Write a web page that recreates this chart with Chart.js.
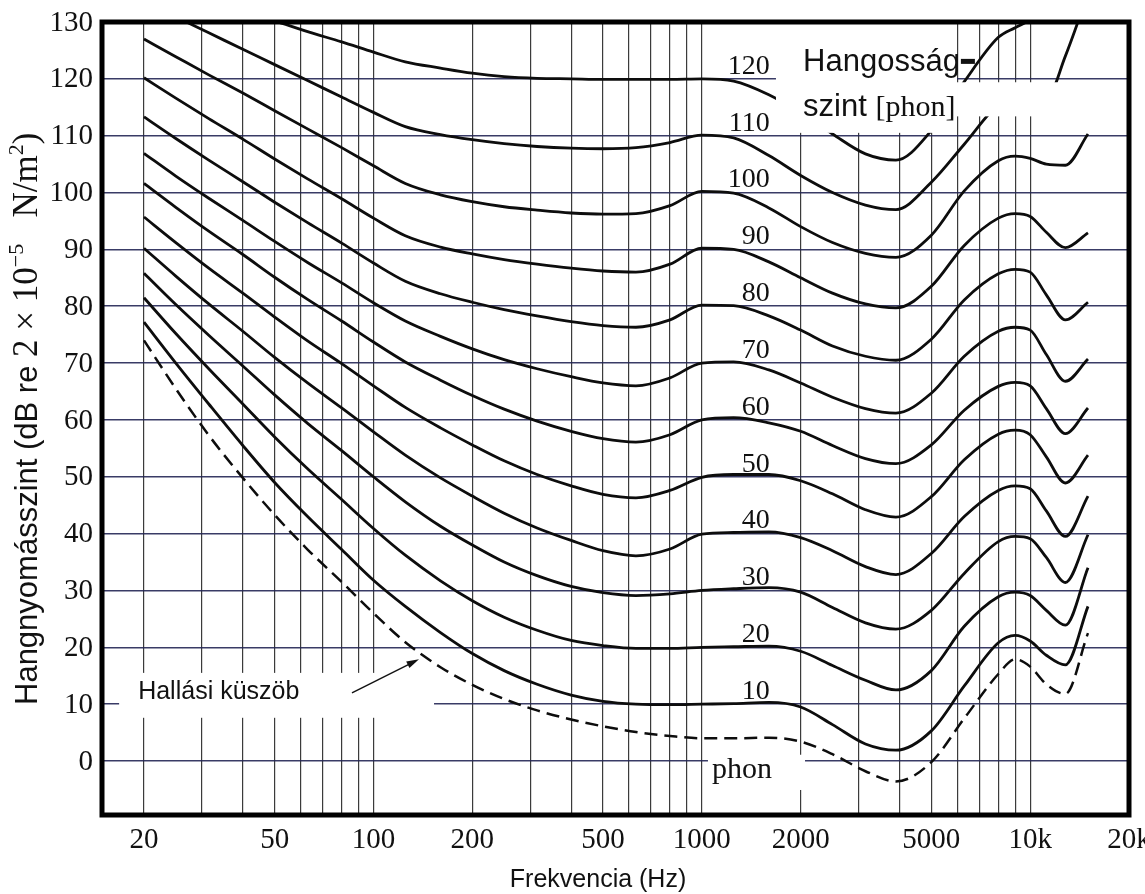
<!DOCTYPE html>
<html>
<head>
<meta charset="utf-8">
<title>Hangossági görbék</title>
<script src="https://cdn.jsdelivr.net/npm/chart.js@4.4.1/dist/chart.umd.min.js"></script>
<style>
  html, body { margin: 0; padding: 0; background: #fff; }
  #wrap { width: 1145px; height: 894px; }
</style>
</head>
<body>
<div id="wrap"><canvas id="chart" width="1145" height="894"></canvas></div>
<script>
// frequency points shared by every contour (Hz)
const FREQ = [20, 25, 31.5, 40, 50, 63, 80, 100, 125, 160, 200, 250, 315, 400, 500, 630, 800,
  1000, 1250, 1600, 2000, 2500, 3150, 3900, 5000, 6300, 8000, 9000, 10000, 11200, 12800, 15000];

// hearing threshold (dashed)
const THRESHOLD = [74, 65.5, 57.3, 49.8, 43.3, 37.2, 31.5, 26, 20.9, 16.5, 13.4, 10.9, 8.9, 7.3, 6.1, 5.1, 4.4,
  4.0, 4.0, 4.1, 3.4, 1.2, -1.8, -3.6, -0.2, 7.5, 15.3, 17.9, 16.6, 13.5, 11.8, 22.5];

// equal loudness contours, dB SPL
const PHON_10 = [77.2, 70, 62.8, 55.5, 49, 43, 37.2, 31.8, 27.2, 22.6, 18.9, 15.9, 13.5, 11.6, 10.5, 10.0, 9.9,
  10, 10.1, 10.3, 9.5, 6.4, 3.0, 1.9, 5.3, 13.2, 20.8, 22.1, 21.1, 18.6, 16.9, 27.2];
const PHON_20 = [81.5, 75.2, 69, 62.8, 57, 51.4, 46, 40.9, 36.2, 31.7, 28.2, 25.3, 23, 21.2, 20.3, 19.8, 19.8,
  20, 20.1, 20.2, 19.3, 16.8, 14.2, 12.5, 15.9, 23.7, 28.9, 29.7, 29.1, 26.5, 23.9, 34.0];
const PHON_30 = [85.8, 80.3, 74.9, 69.5, 64.4, 59.4, 54.6, 50, 45.6, 41.3, 38, 35, 32.6, 30.7, 29.6, 29.1, 29.4,
  30, 30.3, 30.5, 29.7, 27, 24.3, 23.2, 26.5, 33, 38.6, 39.5, 39.1, 35.8, 31.4, 39.8];
const PHON_40 = [90.2, 85.3, 80.4, 75.6, 71, 66.5, 62.1, 57.9, 53.8, 49.8, 46.6, 43.6, 41, 38.8, 37, 36.1, 37.3,
  39.9, 40.2, 40.3, 39.3, 37, 34.2, 32.8, 36.5, 43, 47.6, 48.4, 47.9, 44, 39.5, 46.6];
const PHON_50 = [95.7, 91.2, 86.7, 82.3, 78.1, 73.9, 69.9, 66, 62.2, 58.6, 55.6, 52.8, 50.4, 48.4, 46.9, 46.3, 47.6,
  49.9, 50.4, 50.4, 49.3, 47, 44.2, 42.9, 46.5, 53, 57.5, 58.2, 57.4, 53.5, 48.9, 53.8];
const PHON_60 = [101.6, 97.4, 93.2, 89.1, 85.1, 81.2, 77.4, 73.7, 70.2, 67, 64.3, 61.9, 59.8, 58, 56.7, 56.1, 57.4,
  60, 60.4, 59.5, 58, 55.5, 53.2, 52.3, 55.6, 61.7, 65.9, 66.6, 66, 62, 57.6, 62.1];
const PHON_70 = [106.9, 102.9, 99, 95.1, 91.4, 87.7, 84.1, 80.6, 77.4, 74.7, 72.5, 70.6, 69, 67.6, 66.5, 66, 67.4,
  70, 70.2, 68.8, 66.5, 64, 62, 61.2, 64.7, 71.2, 75.6, 76.3, 75.8, 71.5, 66.8, 70.7];
const PHON_80 = [113.3, 109.5, 105.7, 101.9, 98.3, 94.7, 91.1, 87.6, 84.4, 82.2, 80.7, 79.4, 78.3, 77.3, 76.6, 76.3, 77.6,
  80.2, 80.1, 78.3, 75.8, 73, 71.2, 70.5, 74.2, 81.1, 85.7, 86.5, 86, 82, 77.6, 80.7];
const PHON_90 = [120.2, 116.6, 113, 109.4, 105.9, 102.4, 98.9, 95.5, 92.4, 90.4, 89.2, 88.2, 87.4, 86.7, 86.2, 86, 87.4,
  90.2, 90, 87.8, 85, 82.3, 80.4, 79.7, 83.5, 90.7, 95.5, 96.3, 95.8, 93, 90.3, 92.9];
const PHON_100 = [127, 123.9, 120.7, 117.5, 114.4, 111.2, 107.9, 104.7, 101.6, 99.6, 98.4, 97.5, 96.9, 96.4, 96.2, 96.3, 97.7,
  100.2, 99.9, 97.3, 94, 91.2, 89.3, 88.6, 92.5, 100.3, 105.6, 106.4, 106, 105, 104.8, 110.3];
const PHON_110 = [133.6, 130.9, 128.1, 125.2, 122.5, 119.7, 116.8, 114.1, 111.6, 110.2, 109.3, 108.6, 108.1, 107.8, 107.7, 107.9, 108.8,
  110.1, 109.6, 106.5, 103, 100, 97.8, 97, 101.8, 108.5, 115.5, 117, 116.8, 116.5, 124, 135];
const PHON_120 = [140, 137, 134, 131.9, 130.2, 128.3, 126.5, 124.7, 123, 121.9, 121, 120.4, 120.1, 120, 119.9, 119.9, 119.9,
  120, 119.6, 117.2, 114, 110.3, 106.8, 105.7, 110.9, 119.5, 127.3, 129, 130.4, 133, null, null];

const PHON_LEVELS = [10, 20, 30, 40, 50, 60, 70, 80, 90, 100, 110, 120];
const CONTOURS = [PHON_10, PHON_20, PHON_30, PHON_40, PHON_50, PHON_60, PHON_70, PHON_80, PHON_90, PHON_100, PHON_110, PHON_120];

// axes
const DB_TICKS = [0, 10, 20, 30, 40, 50, 60, 70, 80, 90, 100, 110, 120, 130];
const GRID_FREQS = [20, 30, 40, 50, 60, 70, 80, 90, 100, 200, 300, 400, 500, 600, 700, 800, 900,
  1000, 2000, 3000, 4000, 5000, 6000, 7000, 8000, 9000, 10000, 20000];
const FREQ_TICKS = [20, 50, 100, 200, 500, 1000, 2000, 5000, 10000, 20000];
const FREQ_TICK_TEXT = ['20', '50', '100', '200', '500', '1000', '2000', '5000', '10k', '20k'];

// annotation placement in data units: [freq, dB]
const LABEL_FREQ = 1610;          // right edge of the phon numbers
const LABEL_LIFT = 2.2;           // numbers sit just above their curve
const KUSZOB_TEXT_AT = [19.2, 10.9];
const KUSZOB_ARROW = { from: [86, 12.0], to: [137.6, 17.9] };
const LEGEND_TEXT_AT = [2034, 121.4, 113.5];
const PHON_TEXT_AT = [1074, -3.0];
const X_TITLE_FREQ = 483;
// white patches behind the annotations: [f0, f1, dB0, dB1]
const PATCHES = [
  [16.8, 152.9, 7.6, 15.5],
  [1044, 2062, -5.1, 1.1],
  [1682, 5987, 110.5, 131.5],
  [5987, 20000, 113.4, 119.4]
];

const SANS = '"Liberation Sans", Arial, sans-serif';
const SERIF = '"Liberation Serif", "Times New Roman", serif';

const datasets = CONTOURS.map((vals, i) => ({
  label: PHON_LEVELS[i] + ' phon',
  data: FREQ.map((f, j) => ({ x: f, y: vals[j] })),
  borderColor: '#0d0d0d',
  borderWidth: 2.8,
  pointRadius: 0,
  fill: false,
  spanGaps: false,
  cubicInterpolationMode: 'monotone'
}));
datasets.push({
  label: 'Hallási küszöb',
  data: FREQ.map((f, j) => ({ x: f, y: THRESHOLD[j] })),
  borderColor: '#0d0d0d',
  borderWidth: 2.5,
  borderDash: [13, 7],
  pointRadius: 0,
  fill: false,
  cubicInterpolationMode: 'monotone'
});

const overlays = {
  id: 'overlays',
  afterDatasetsDraw(chart) {
    const { ctx, chartArea: a, scales: { x, y } } = chart;
    const px = f => x.getPixelForValue(f);
    const py = v => y.getPixelForValue(v);
    ctx.save();

    // white patches under the texts
    ctx.fillStyle = '#fff';
    PATCHES.forEach(([f0, f1, d0, d1]) => {
      ctx.fillRect(px(f0), py(d1), px(f1) - px(f0), py(d0) - py(d1));
    });

    ctx.fillStyle = '#111';
    ctx.textBaseline = 'alphabetic';
    ctx.textAlign = 'left';

    // threshold label + arrow
    ctx.font = '25px ' + SANS;
    ctx.fillText('Hallási küszöb', px(KUSZOB_TEXT_AT[0]), py(KUSZOB_TEXT_AT[1]));
    const ax0 = px(KUSZOB_ARROW.from[0]), ay0 = py(KUSZOB_ARROW.from[1]);
    const ax1 = px(KUSZOB_ARROW.to[0]), ay1 = py(KUSZOB_ARROW.to[1]);
    const ang = Math.atan2(ay1 - ay0, ax1 - ax0);
    ctx.strokeStyle = '#111';
    ctx.lineWidth = 1.4;
    ctx.beginPath();
    ctx.moveTo(ax0, ay0);
    ctx.lineTo(ax1 - 8 * Math.cos(ang), ay1 - 8 * Math.sin(ang));
    ctx.stroke();
    ctx.beginPath();
    ctx.moveTo(ax1, ay1);
    ctx.lineTo(ax1 - 13 * Math.cos(ang - 0.28), ay1 - 13 * Math.sin(ang - 0.28));
    ctx.lineTo(ax1 - 13 * Math.cos(ang + 0.28), ay1 - 13 * Math.sin(ang + 0.28));
    ctx.closePath();
    ctx.fill();

    // legend title
    ctx.font = '31px ' + SANS;
    const lx = px(LEGEND_TEXT_AT[0]);
    ctx.fillText('Hangosság', lx, py(LEGEND_TEXT_AT[1]));
    const hw = ctx.measureText('Hangosság').width;
    ctx.fillRect(lx + hw + 1, py(LEGEND_TEXT_AT[1]) - 12, 14, 5);
    ctx.fillText('szint ', lx, py(LEGEND_TEXT_AT[2]));
    const sw = ctx.measureText('szint ').width;
    ctx.font = '30px ' + SERIF;
    ctx.fillText('[phon]', lx + sw, py(LEGEND_TEXT_AT[2]));

    // unit under the 0 phon region
    ctx.fillText('phon', px(PHON_TEXT_AT[0]), py(PHON_TEXT_AT[1]));

    // phon numbers
    ctx.font = '28px ' + SERIF;
    ctx.textAlign = 'right';
    ctx.textBaseline = 'middle';
    PHON_LEVELS.forEach(p => ctx.fillText(String(p), px(LABEL_FREQ), py(p + LABEL_LIFT)));

    // frame
    ctx.lineWidth = 5;
    ctx.strokeStyle = '#000';
    ctx.strokeRect(a.left, a.top, a.right - a.left, a.bottom - a.top);

    // tick labels
    ctx.font = '29px ' + SERIF;
    ctx.textAlign = 'right';
    DB_TICKS.forEach(v => ctx.fillText(String(v), a.left - 9, py(v) + 1));
    ctx.font = '29px ' + SERIF;
    ctx.textAlign = 'center';
    FREQ_TICKS.forEach((f, i) => ctx.fillText(FREQ_TICK_TEXT[i], px(f), a.bottom + 25));

    // axis titles
    ctx.textBaseline = 'alphabetic';
    ctx.font = '25px ' + SANS;
    ctx.fillText('Frekvencia (Hz)', px(X_TITLE_FREQ), a.bottom + 72);

    ctx.translate(26, 705);
    ctx.rotate(-Math.PI / 2);
    ctx.textAlign = 'left';
    const parts = [
      { t: 'Hangnyomásszint (dB re ', f: '31px ' + SANS, r: 0 },
      { t: '2 × 10', f: '35px ' + SERIF, r: 0 },
      { t: '−5', f: '22px ' + SERIF, r: 14 },
      { t: '   N/m', f: '35px ' + SERIF, r: 0 },
      { t: '2', f: '22px ' + SERIF, r: 14 },
      { t: ')', f: '35px ' + SERIF, r: 0 }
    ];
    let pos = 0;
    parts.forEach(s => {
      ctx.font = s.f;
      ctx.fillText(s.t, pos, 11 - s.r);
      pos += ctx.measureText(s.t).width;
    });
    ctx.restore();
  }
};

new Chart(document.getElementById('chart'), {
  type: 'line',
  data: { datasets },
  options: {
    responsive: false,
    animation: false,
    devicePixelRatio: 1,
    layout: { padding: { left: 102, top: 22, right: 16, bottom: 79 } },
    plugins: { legend: { display: false }, tooltip: { enabled: false }, title: { display: false } },
    scales: {
      x: {
        type: 'logarithmic',
        min: 14.9,
        max: 20000,
        afterBuildTicks: s => { s.ticks = GRID_FREQS.map(v => ({ value: v })); },
        ticks: { display: false },
        grid: { color: 'rgba(25,25,25,0.85)', lineWidth: 1.2, drawTicks: false },
        border: { display: false }
      },
      y: {
        type: 'linear',
        min: -9.5,
        max: 130,
        afterBuildTicks: s => { s.ticks = DB_TICKS.map(v => ({ value: v })); },
        ticks: { display: false },
        grid: { color: 'rgba(35,38,85,0.9)', lineWidth: 1.6, drawTicks: false },
        border: { display: false }
      }
    }
  },
  plugins: [overlays]
});
</script>
</body>
</html>
